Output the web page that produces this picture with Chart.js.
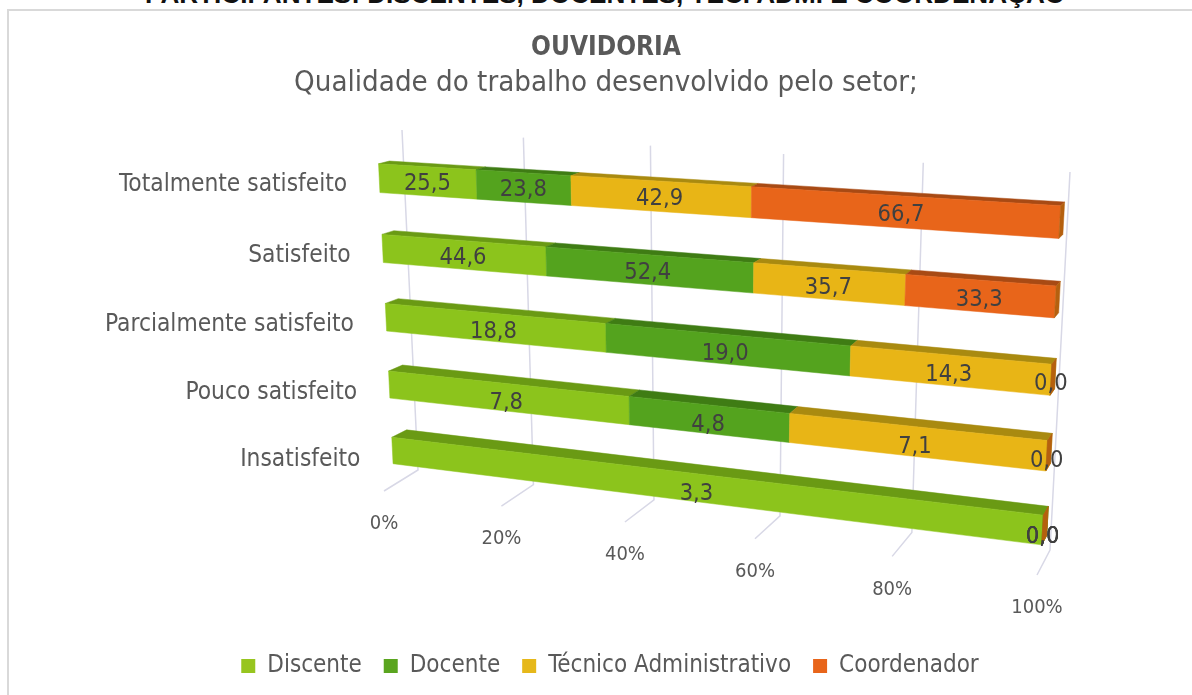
<!DOCTYPE html>
<html><head><meta charset="utf-8">
<script src="https://cdn.jsdelivr.net/npm/chart.js@4"></script>
<style>
html,body{margin:0;padding:0;background:#fff;overflow:hidden}
#wrap{position:relative;width:1192px;height:695px;overflow:hidden}
#head{position:absolute;left:0;width:1210px;top:-21px;text-align:center;font:bold 26.1px "Liberation Sans";color:#111;white-space:nowrap}
#box{position:absolute;left:7px;top:9px;width:1300px;height:800px;border:2px solid #d9d9d9;box-sizing:border-box}
canvas{position:absolute;left:0;top:0}
</style></head><body>
<div id="wrap">
<div id="head">PARTICIPANTES: DISCENTES, DOCENTES, TEC. ADM. E COORDENAÇÃO</div>
<div id="box"></div>
<canvas id="c" width="1192" height="695"></canvas>
</div>
<script>
const FONT = '"DejaVu Sans Condensed"';
const categories = ['Totalmente satisfeito','Satisfeito','Parcialmente satisfeito','Pouco satisfeito','Insatisfeito'];
const discente = [25.5,44.6,18.8,7.8,3.3];
const docente = [23.8,52.4,19.0,4.8,0];
const tecnico = [42.9,35.7,14.3,7.1,0];
const coordenador = [66.7,33.3,0,0,0];
const seriesNames = ['Discente','Docente','Técnico Administrativo','Coordenador'];
const seriesValues = [discente,docente,tecnico,coordenador];
const frontColors = ['#8CC41C','#54A31E','#E8B516','#E8651A'];
const legendColors = ['#97C51F','#5AA51F','#E6B81A','#E8651A'];
const topColors = ['#6A9A14','#3F7C14','#A98A10','#A84A14'];
const sideColors = ['#6E9E16','#447F16','#B08C10','#B5600F'];
const xTicks = [0,20,40,60,80,100];

const totals = categories.map((_,i)=>seriesValues.reduce((s,a)=>s+a[i],0));
const shares = a => a.map((v,i)=>v/totals[i]*100);

// projective map of the unit square onto a quad (TL,TR,BR,BL)
function homography(q){
  const [p0,p1,p2,p3]=q;
  const dx1=p1[0]-p2[0],dx2=p3[0]-p2[0],sx=p0[0]-p1[0]+p2[0]-p3[0];
  const dy1=p1[1]-p2[1],dy2=p3[1]-p2[1],sy=p0[1]-p1[1]+p2[1]-p3[1];
  const d=dx1*dy2-dx2*dy1;
  const g=(sx*dy2-dx2*sy)/d,h=(dx1*sy-sx*dy1)/d;
  const a=p1[0]-p0[0]+g*p1[0],b=p3[0]-p0[0]+h*p3[0],c=p0[0];
  const e=p1[1]-p0[1]+g*p1[1],f=p3[1]-p0[1]+h*p3[1],k=p0[1];
  return (u,v)=>{const w=g*u+h*v+1;return [(a*u+b*v+c)/w,(e*u+f*v+k)/w];};
}
const front = homography([[377.5,142.5],[1062,181.5],[1040.5,566.5],[394,483]]);
const back  = homography([[388,140],[1065.9,178],[1045.6,556.5],[409.5,474.5]]);
const wall  = homography([[402,130],[1070,172],[1050,550],[418,470]]);
// front edge of the floor, foreshortened like the wall
function floorEdge(u){
  const f=0.877*u/(0.877*u+1-u);
  return [384+f*(1037-384),491+f*(575-491)];
}

function poly(ctx,pts,color){
  ctx.beginPath();pts.forEach((p,i)=>i?ctx.lineTo(p[0],p[1]):ctx.moveTo(p[0],p[1]));
  ctx.closePath();ctx.fillStyle=color;ctx.fill();
  ctx.strokeStyle=color;ctx.lineWidth=0.5;ctx.stroke();
}
const perspective = {
  id:'perspective',
  beforeDatasetsDraw(chart){
    const ctx=chart.ctx,A=chart.chartArea,xs=chart.scales.x,ys=chart.scales.y;
    const U=px=>(px-A.left)/A.width, V=py=>(py-A.top)/A.height;
    ctx.save();
    // grid on wall and floor, from the value scale
    ctx.strokeStyle='#D8D8E6';ctx.lineWidth=1.5;
    xs.ticks.forEach(t=>{
      const u=U(xs.getPixelForValue(t.value));
      const a=wall(u,0),b=wall(u,1),c=floorEdge(u);
      ctx.beginPath();ctx.moveTo(a[0],a[1]);ctx.lineTo(b[0],b[1]);ctx.lineTo(c[0],c[1]);ctx.stroke();
    });
    // bars
    chart.data.datasets.forEach((ds,di)=>{
      chart.getDatasetMeta(di).data.forEach(el=>{
        const u0=U(el.base),u1=U(el.x),v0=V(el.y-el.height/2),v1=V(el.y+el.height/2);
        if(u1-u0>1e-6){
          poly(ctx,[front(u0,v0),front(u1,v0),back(u1,v0),back(u0,v0)],topColors[di]);
          poly(ctx,[front(u0,v0),front(u1,v0),front(u1,v1),front(u0,v1)],frontColors[di]);
        }
        if(u1>0.9999){
          poly(ctx,[front(1,v0),back(1,v0),back(1,v1),front(1,v1)],sideColors[di]);
        }
      });
    });
    // data labels
    ctx.textAlign='center';ctx.textBaseline='middle';
    ctx.font='23.5px '+FONT;ctx.fillStyle='#404040';
    chart.data.datasets.forEach((ds,di)=>{
      chart.getDatasetMeta(di).data.forEach((el,i)=>{
        const p=front(U((el.base+el.x)/2),V(el.y));
        ctx.fillText(seriesValues[di][i].toFixed(1).replace('.',','),p[0],p[1]+2.5+i);
      });
    });
    // category and value tick labels
    ctx.fillStyle='#595959';ctx.font='24.3px '+FONT;ctx.textAlign='right';
    categories.forEach((name,i)=>{
      const p=front(0,V(ys.getPixelForValue(i)));
      ctx.fillText(name,p[0]-32,p[1]+6.5+i*0.6);
    });
    ctx.textAlign='center';ctx.font='20px '+FONT;
    xs.ticks.forEach(t=>{
      const p=floorEdge(U(xs.getPixelForValue(t.value)));
      ctx.fillText(t.value+'%',p[0],p[1]+33);
    });
    ctx.restore();
    return false;
  }
};

new Chart(document.getElementById('c'),{
  type:'bar',
  data:{labels:categories,datasets:seriesNames.map((n,i)=>({
    label:n,data:shares(seriesValues[i]),backgroundColor:legendColors[i],
    barPercentage:0.405,categoryPercentage:1,stack:'s'}))},
  plugins:[perspective],
  options:{
    responsive:false,animation:false,indexAxis:'y',
    layout:{padding:{left:20,right:0,top:33,bottom:7}},
    scales:{
      x:{stacked:true,min:0,max:100,afterBuildTicks(s){s.ticks=xTicks.map(v=>({value:v}));},
         ticks:{display:false},grid:{display:false},border:{display:false}},
      y:{stacked:true,ticks:{display:false},grid:{display:false},border:{display:false},afterFit(s){s.width=8;}}
    },
    plugins:{
      tooltip:{enabled:false},
      title:{display:true,text:'OUVIDORIA',color:'#595959',font:{family:FONT,size:26,weight:'bold'},padding:{top:0,bottom:2}},
      subtitle:{display:true,text:'Qualidade do trabalho desenvolvido pelo setor;',color:'#595959',font:{family:FONT,size:29.2,weight:'normal'},padding:{top:0,bottom:10}},
      legend:{position:'bottom',fullSize:false,labels:{boxWidth:14,boxHeight:14,padding:22,color:'#595959',font:{family:FONT,size:24}}}
    }
  }
});
</script>
</body></html>
